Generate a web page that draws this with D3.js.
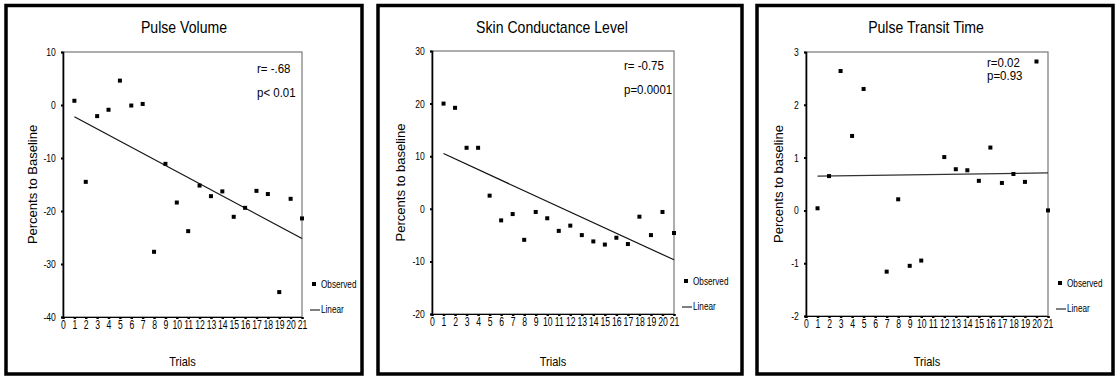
<!DOCTYPE html>
<html>
<head>
<meta charset="utf-8">
<script src="https://cdn.jsdelivr.net/npm/d3@7"></script>
<style>
  body { margin: 0; background: #fff; }
  svg { display: block; }
  text { fill: #000; font-family: "Liberation Sans", Arial, sans-serif; }
</style>
</head>
<body>
<svg id="chart" width="1118" height="376"></svg>
<script>
// trials 0..21 on the x axis
const trials = d3.range(1, 22);
const xTicks = d3.range(0, 22);

// Pulse Volume
const pulseVolume = [0.8, -14.5, -2.1, -0.9, 4.6, -0.1, 0.2, -27.7, -11.1, -18.4, -23.8,
  -15.2, -17.2, -16.3, -21.1, -19.4, -16.2, -16.8, -35.3, -17.7, -21.4];
const pulseVolumeLinear = [-2.2, -25.2];   // fit at trial 1 and trial 21
const pulseVolumeTicks = [10, 0, -10, -20, -30, -40];

// Skin Conductance Level
const skinConductance = [20.0, 19.2, 11.6, 11.6, 2.5, -2.2, -1.0, -5.9, -0.6, -1.8, -4.2,
  -3.2, -5.0, -6.2, -6.8, -5.5, -6.7, -1.5, -5.0, -0.6, -4.6];
const skinConductanceLinear = [10.5, -9.7];
const skinConductanceTicks = [30, 20, 10, 0, -10, -20];

// Pulse Transit Time (trials 6 and 11 missing)
const pulseTransit = [0.04, 0.65, 2.64, 1.41, 2.3, null, -1.16, 0.21, -1.05, -0.95, null,
  1.01, 0.78, 0.76, 0.56, 1.19, 0.52, 0.69, 0.54, 2.82, 0.0];
const pulseTransitLinear = [0.65, 0.71];
const pulseTransitTicks = [3, 2, 1, 0, -1, -2];

const titles = ["Pulse Volume", "Skin Conductance Level", "Pulse Transit Time"];
const yLabels = ["Percents to Baseline", "Percents to baseline", "Percents to baseline"];
const statsR = ["r= -.68", "r= -0.75", "r=0.02"];
const statsP = ["p< 0.01", "p=0.0001", "p=0.93"];

const panels = [
  { frame: [6, 362], plot: [63, 302, 52, 317], title: 184, ylab: 33, stats: [257, 73, 97],
    values: pulseVolume, linear: pulseVolumeLinear, ticks: pulseVolumeTicks },
  { frame: [378, 742], plot: [432, 674, 51, 314], title: 552, ylab: 401, stats: [624, 70, 94],
    values: skinConductance, linear: skinConductanceLinear, ticks: skinConductanceTicks },
  { frame: [757, 1113], plot: [806, 1048, 52, 316], title: 926, ylab: 779, stats: [987, 67, 80],
    values: pulseTransit, linear: pulseTransitLinear, ticks: pulseTransitTicks }
];

const svg = d3.select("#chart");

// narrow text: a horizontally squeezed Liberation Sans
function narrowText(g, x, y, size, sx, anchor, str) {
  return g.append("text")
    .attr("transform", "translate(" + x + "," + y + ")scale(" + sx + ",1)")
    .attr("text-anchor", anchor)
    .style("font-size", size + "px")
    .text(str);
}

panels.forEach((p, i) => {
  const g = svg.append("g");
  const [x0, x1, y0, y1] = p.plot;

  // panel frame
  g.append("rect")
    .attr("x", p.frame[0]).attr("y", 5.5)
    .attr("width", p.frame[1] - p.frame[0]).attr("height", 368.5)
    .attr("fill", "none").attr("stroke", "#000").attr("stroke-width", 3.5);

  const x = d3.scaleLinear().domain([0, 21]).range([x0, x1]);
  const y = d3.scaleLinear().domain(d3.extent(p.ticks)).range([y1, y0]);

  // plot box
  g.append("rect")
    .attr("x", x0).attr("y", y0).attr("width", x1 - x0).attr("height", y1 - y0)
    .attr("fill", "none").attr("stroke", "#777").attr("stroke-width", 1.2);

  // y axis
  const yAxis = g.append("g")
    .attr("transform", "translate(" + x0 + ",0)")
    .call(d3.axisLeft(y).tickValues(p.ticks).tickSize(2).tickPadding(2).tickFormat(d => String(d)));
  yAxis.select(".domain").attr("stroke", "#000").attr("stroke-width", 1.6);
  yAxis.selectAll(".tick line").attr("stroke", "#000").attr("stroke-width", 2);
  yAxis.selectAll(".tick text")
    .style("font-size", "11px").attr("fill", "#000")
    .attr("transform", "translate(-4,0)scale(0.78,1)");

  // x axis
  const xAxis = g.append("g")
    .attr("transform", "translate(0," + y1 + ")")
    .call(d3.axisBottom(x).tickValues(xTicks).tickSize(2).tickPadding(1).tickFormat(d => String(d)));
  xAxis.select(".domain").attr("stroke", "#000").attr("stroke-width", 1.2);
  xAxis.selectAll(".tick line").attr("stroke", "#000").attr("stroke-width", 2.5);
  xAxis.selectAll(".tick text")
    .style("font-size", "12px").attr("fill", "#000")
    .attr("transform", "scale(0.72,1)");

  // linear fit line
  g.append("line")
    .attr("x1", x(1)).attr("y1", y(p.linear[0]))
    .attr("x2", x(21)).attr("y2", y(p.linear[1]))
    .attr("stroke", i === 2 ? "#333" : "#111").attr("stroke-width", 1.2);

  // observed points
  const pts = trials.map((t, k) => ({ t: t, v: p.values[k] })).filter(d => d.v !== null);
  g.selectAll("rect.pt")
    .data(pts)
    .enter()
    .append("rect")
      .attr("class", "pt")
      .attr("x", d => x(d.t) - 2)
      .attr("y", d => y(d.v) - 2)
      .attr("width", 4).attr("height", 4)
      .attr("fill", "#000");

  // title
  narrowText(g, p.title, 33, 16, 0.88, "middle", titles[i]);

  // axis labels
  g.append("text")
    .attr("text-anchor", "middle")
    .attr("transform", "translate(" + (p.ylab + 4) + "," + ((y0 + y1) / 2) + ")rotate(-90)")
    .style("font-size", "13px")
    .text(yLabels[i]);

  narrowText(g, (x0 + x1) / 2, 366, 13, 0.85, "middle", "Trials");

  // stats
  narrowText(g, p.stats[0], p.stats[1], 13.5, 0.85, "start", statsR[i]);
  narrowText(g, p.stats[0], p.stats[2], 13.5, 0.85, "start", statsP[i]);

  // legend
  g.append("rect")
    .attr("x", x1 + 10).attr("y", y1 - 35).attr("width", 4).attr("height", 4)
    .attr("fill", "#000");
  narrowText(g, x1 + 19, y1 - 29.5, 10, 0.82, "start", "Observed");
  g.append("line")
    .attr("x1", x1 + 8).attr("x2", x1 + 18)
    .attr("y1", y1 - 7).attr("y2", y1 - 7)
    .attr("stroke", "#000").attr("stroke-width", 1);
  narrowText(g, x1 + 19, y1 - 4, 10, 0.82, "start", "Linear");
});
</script>
</body>
</html>
